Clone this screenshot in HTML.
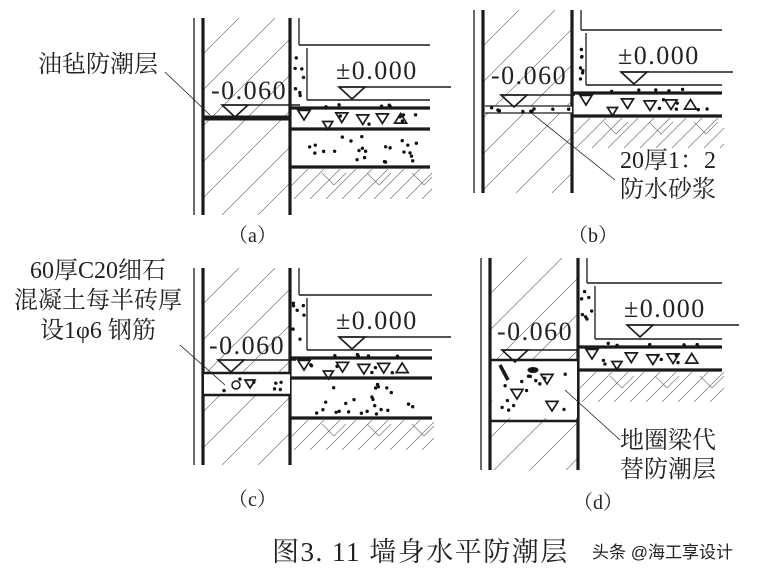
<!DOCTYPE html><html><head><meta charset="utf-8"><style>
html,body{margin:0;padding:0;background:#fff;}
svg{display:block;}
text{font-family:"Liberation Serif","Noto Serif CJK SC",serif;fill:#222;}
</style></head><body>
<svg id="s" width="771" height="580" viewBox="0 0 771 580" xmlns="http://www.w3.org/2000/svg">
<g id="g" stroke="#1a1a1a" fill="none"></g>
<text x="38" y="72" font-size="24">油毡防潮层</text>
<text x="228" y="242" font-size="20">（a）</text>
<text x="568" y="242" font-size="20">（b）</text>
<text x="620" y="168" font-size="24">20厚1：2</text>
<text x="620" y="197" font-size="24">防水砂浆</text>
<text x="30" y="278" font-size="24">60厚C20细石</text>
<text x="14" y="308" font-size="24">混凝土每半砖厚</text>
<text x="40" y="338" font-size="24">设1φ6 钢筋</text>
<text x="228" y="506" font-size="20">（c）</text>
<text x="573" y="509" font-size="20">（d）</text>
<text x="620" y="448" font-size="24">地圈梁代</text>
<text x="620" y="477" font-size="24">替防潮层</text>
<text x="272" y="561" font-size="27" letter-spacing="1.5">图3. 11  墙身水平防潮层</text>
<text x="592" y="558" font-size="17" style="font-family:'Liberation Sans','Noto Sans CJK SC',sans-serif">头条 @海工享设计</text>
</svg>
<script>
var g=document.getElementById('g'),NS="http://www.w3.org/2000/svg";
function el(t,a,p){var e=document.createElementNS(NS,t);for(var k in a)e.setAttribute(k,a[k]);(p||g).appendChild(e);return e;}
function L(x1,y1,x2,y2,w){el('line',{x1:x1,y1:y1,x2:x2,y2:y2,'stroke-width':w||1.2});}
var cid=0;
function hatch(x,y,w,h,step){cid++;var c=el('clipPath',{id:'c'+cid});el('rect',{x:x,y:y,width:w,height:h},c);
 var gg=el('g',{'clip-path':'url(#c'+cid+')','stroke-width':0.7,stroke:'#777'});
 for(var i=-h;i<w;i+=step){el('line',{x1:x+i,y1:y+h,x2:x+i+h,y2:y},gg);} }
function ground(x,y,w,h){cid++;var c=el('clipPath',{id:'c'+cid});el('rect',{x:x,y:y,width:w,height:h},c);
 var gg=el('g',{'clip-path':'url(#c'+cid+')','stroke-width':0.7,stroke:'#777'});
 for(var i=-h;i<w;i+=16){el('line',{x1:x+i,y1:y+h,x2:x+i+h,y2:y},gg);}
 for(var i=30;i<w;i+=45){el('polyline',{points:(x+i)+','+(y+4)+' '+(x+i+12)+','+(y+16)+' '+(x+i+24)+','+(y+4),fill:'none'},gg);} }
function dots(x,y,w,h,n,seed){var s=seed;function r(){s=(s*9301+49297)%233280;return s/233280;}
 for(var i=0;i<n;i++)el('circle',{cx:x+r()*w,cy:y+r()*h,r:1.7,fill:'#111',stroke:'none'});}
function tri(x,y,s,up){var p=up?[x,y-s,x-s,y+s*0.6,x+s,y+s*0.6]:[x-s,y-s*0.6,x+s,y-s*0.6,x,y+s];el('polygon',{points:p.join(','),'stroke-width':1.7,fill:'none'});}
function mark(x,y,lineW){el('polygon',{points:(x-13)+','+y+' '+(x+13)+','+y+' '+x+','+(y+12),'stroke-width':1.6,fill:'none'});L(x-13,y,x-13+lineW,y,1.6);}
function txt(x,y,s,sz){var t=el('text',{x:x,y:y,'font-size':sz||24,'letter-spacing':1.5,stroke:'none',fill:'#222'});t.textContent=s;document.getElementById('s').appendChild(t);}
function panel(P){
 var o=P.o,ot=o+9,it=P.it,ith=it+9,bx=P.bx,W=P.re-it;
 hatch(ot,P.t,it-ot,P.b-P.t,36);
 L(o,P.t,o,P.b,1.3);L(ot,P.t,ot,P.b,3.2);L(it,P.t,it,P.b,3.2);
 L(ith,P.t,ith,P.fy,1.3);L(ith,P.fy,P.re,P.fy,1.6);L(bx,P.fy+3,bx,P.ft,1.3);
 dots(it+3,P.fy+8,bx-it-6,P.ft-P.fy-8,7,P.seed);
 L(bx,P.ft,P.re,P.ft,1.4);L(it,P.f1,P.re,P.f1,3.2);L(it,P.f2,P.re,P.f2,3.2);
 dots(it+30,P.f1-4,W-50,3,5,P.seed+3);
 dots(it+20,P.f1+6,W-30,P.f2-P.f1-10,6,P.seed+5);
 var m=P.f1+(P.f2-P.f1)/2;
 tri(it+14,P.f1+6,6,false);tri(it+W*0.37,m-2,6,false);tri(it+W*0.52,m,6,false);tri(it+W*0.66,m-1,6,false);tri(it+W*0.79,m+1,6,true);tri(it+W*0.27,m+6,5,false);
 var gy=P.f2;
 if(P.f3){L(it,P.f3,P.re,P.f3,3.2);dots(it+10,P.f2+6,W-20,P.f3-P.f2-10,24,P.seed+7);gy=P.f3;}
 ground(it+2,gy+2,W,30);
 txt(it+46,P.fy+34,'±0.000',26);mark(it+62,P.fy+42,112);
}
panel({o:194,it:290,bx:307,t:18,b:215,fy:45,ft:100,f1:108,f2:129,f3:167,re:430,seed:11});
panel({o:474,it:572,bx:586,t:10,b:193,fy:30,ft:85,f1:93,f2:116,re:722,seed:37});
panel({o:194,it:290,bx:307,t:268,b:465,fy:295,ft:350,f1:358,f2:378,f3:418,re:432,seed:71});
panel({o:481,it:578,bx:595,t:258,b:470,fy:283,ft:339,f1:347,f2:370,re:722,seed:53});
// a
L(203,118,290,118,5);txt(211,99,'-0.060',26);mark(235,105,78);L(165,72,210,115,0.8);
// b
el('rect',{x:485,y:106,width:87,height:7,fill:'#fff',stroke:'none'});
L(485,106,572,106,1.3);L(485,113,572,113,1.3);dots(490,107,80,5,9,5);txt(491,84,'-0.060',26);mark(514,95,74);L(530,112,615,180,0.8);
// c
el('rect',{x:204,y:373,width:86,height:22,fill:'#fff',stroke:'none'});
L(203,373,290,373,2.5);L(203,395,290,395,2.5);dots(220,378,65,14,7,91);tri(250,383,5,false);el('circle',{cx:236,cy:385,r:4,'stroke-width':1.5});
txt(209,354,'-0.060',26);mark(231,360,78);L(180,345,225,385,0.8);
// d
el('rect',{x:492,y:360,width:85,height:58,fill:'#fff',stroke:'none'});
L(490,360,578,360,2.5);L(490,421,578,421,2.5);dots(500,368,72,45,14,17);
tri(547,378,6,false);tri(517,393,6,false);tri(552,405,6,false);
L(500,365,508,380,3.5);el('ellipse',{cx:533,cy:370,rx:5,ry:2.5,fill:'#111'});
txt(497,340,'-0.060',26);mark(515,350,76);L(565,390,620,440,0.8);
</script>
</body></html>
